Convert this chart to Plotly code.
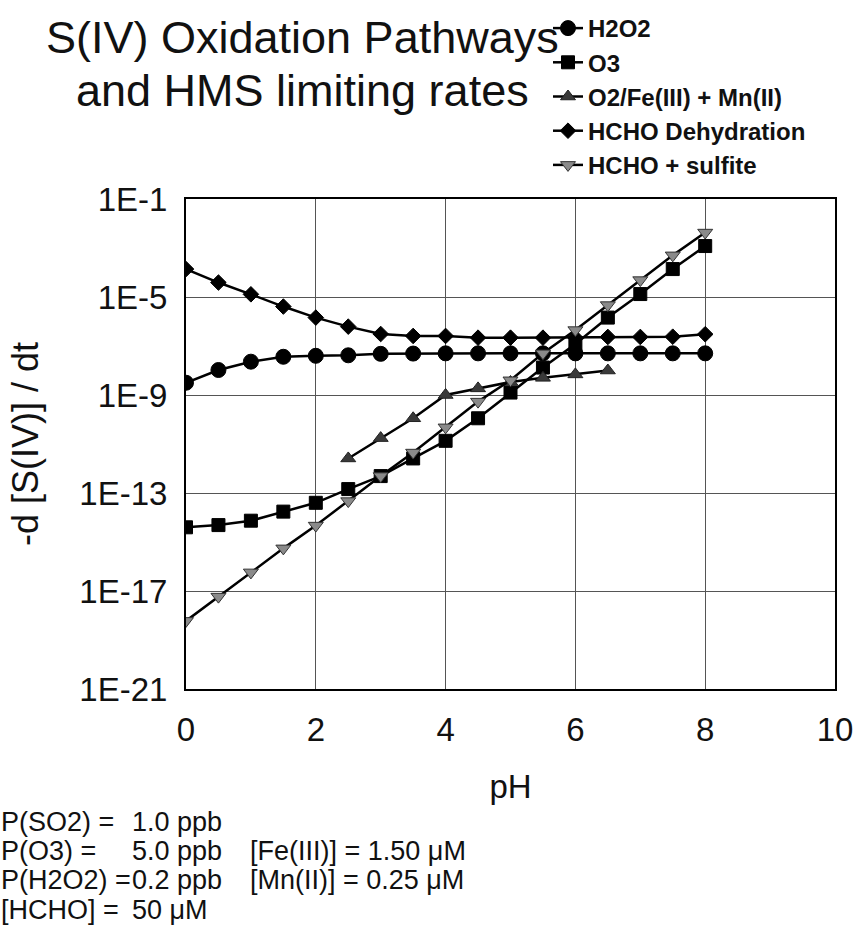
import plotly.graph_objects as go

# ---------------- data (log10 of rate) ----------------
ph_full = [0, 0.5, 1, 1.5, 2, 2.5, 3, 3.5, 4, 4.5, 5, 5.5, 6, 6.5, 7, 7.5, 8]
ph_fe = [2.5, 3, 3.5, 4, 4.5, 5, 5.5, 6, 6.5]

log_h2o2 = [-8.5, -7.98, -7.64, -7.44, -7.40, -7.38, -7.32, -7.31, -7.30, -7.30,
            -7.30, -7.30, -7.30, -7.30, -7.30, -7.30, -7.30]
log_o3 = [-14.4, -14.31, -14.13, -13.76, -13.40, -12.84, -12.31, -11.59, -10.87,
          -9.95, -8.9, -7.88, -6.92, -5.84, -4.88, -3.86, -2.92]
log_fe = [-11.59, -10.76, -9.95, -9.0, -8.73, -8.47, -8.30, -8.16, -8.0]
log_dehyd = [-3.86, -4.41, -4.89, -5.39, -5.84, -6.21, -6.51, -6.59, -6.59, -6.66,
             -6.66, -6.66, -6.66, -6.63, -6.63, -6.62, -6.52]
log_sulfite = [-18.22, -17.23, -16.24, -15.26, -14.33, -13.33, -12.31, -11.35, -10.32,
               -9.27, -8.4, -7.30, -6.35, -5.33, -4.31, -3.30, -2.37]

y_tick_exps = [-1, -5, -9, -13, -17, -21]
y_tick_text = ["1E-1", "1E-5", "1E-9", "1E-13", "1E-17", "1E-21"]
x_tick_vals = [0, 2, 4, 6, 8, 10]

series_names = ["H2O2", "O3", "O2/Fe(III) + Mn(II)", "HCHO Dehydration", "HCHO + sulfite"]

title_lines = ["S(IV) Oxidation Pathways", "and HMS limiting rates"]
notes_col1 = ["P(SO2) =", "P(O3) =", "P(H2O2) =", "[HCHO] ="]
notes_col2 = ["1.0 ppb", "5.0 ppb", "0.2 ppb", "50 μM"]
notes_col3 = ["", "[Fe(III)] = 1.50 μM", "[Mn(II)] = 0.25 μM", ""]

# ---------------- layout constants ----------------
W, H = 862, 950
L, R, T, B = 186, 27, 199, 261
PW = W - L - R
PH = H - T - B
FONT = "Liberation Sans, Arial, sans-serif"


def px_x(px):
    return (px - L) / PW


def px_y(py):
    return (H - B - py) / PH


def pw(vals):
    return [10 ** v for v in vals]


fig = go.Figure()

styles = [
    dict(symbol="circle", size=15, color="black", line=dict(color="black", width=1)),
    dict(symbol="square", size=13, color="black", line=dict(color="black", width=1)),
    dict(symbol="triangle-up", size=13, color="#3a3a3a", line=dict(color="#222", width=1)),
    dict(symbol="diamond", size=12, color="black", line=dict(color="black", width=1)),
    dict(symbol="triangle-down", size=13, color="#8a8a8a", line=dict(color="#333", width=1)),
]
xs = [ph_full, ph_full, ph_fe, ph_full, ph_full]
ys = [log_h2o2, log_o3, log_fe, log_dehyd, log_sulfite]

for name, x, y, st in zip(series_names, xs, ys, styles):
    fig.add_trace(go.Scatter(
        x=x, y=pw(y), name=name, mode="lines+markers",
        line=dict(color="black", width=2.5),
        marker=st,
    ))

annotations = []
for txt, ycen in zip(title_lines, [37, 90]):
    annotations.append(dict(
        text=txt, xref="paper", yref="paper", x=px_x(302), y=px_y(ycen),
        xanchor="center", yanchor="middle", showarrow=False,
        font=dict(family=FONT, size=45, color="#111")))

line_y = [822, 851, 880, 910]
for i in range(4):
    for col, xpx in ((notes_col1, -1), (notes_col2, 130), (notes_col3, 248)):
        if col[i]:
            annotations.append(dict(
                text=col[i], xref="paper", yref="paper",
                x=px_x(xpx), y=px_y(line_y[i]), xanchor="left", yanchor="middle",
                showarrow=False, font=dict(family=FONT, size=27, color="#111")))

fig.update_layout(
    width=W, height=H,
    margin=dict(l=L, r=R, t=T, b=B, pad=0, autoexpand=False),
    paper_bgcolor="white", plot_bgcolor="white",
    font=dict(family=FONT, color="#111"),
    showlegend=True,
    legend=dict(xref="container", yref="container", x=548 / W, y=1 - 6 / H,
                xanchor="left", yanchor="top",
                font=dict(family=FONT, size=24, color="#111", weight="bold"),
                bgcolor="rgba(0,0,0,0)", borderwidth=0, tracegroupgap=0,
                itemwidth=30, itemsizing="trace"),
    annotations=annotations,
    xaxis=dict(range=[0, 10], tickvals=x_tick_vals, showgrid=True,
               gridcolor="#555", gridwidth=1, zeroline=False,
               showline=True, linecolor="black", linewidth=2, mirror=True,
               ticks="", ticklabelstandoff=10, automargin=False,
               tickfont=dict(family=FONT, size=33, color="#111"),
               title=dict(text="pH", font=dict(family=FONT, size=33, color="#111"),
                          standoff=28)),
    yaxis=dict(type="log", range=[-21, -1],
               tickvals=[10 ** e for e in y_tick_exps], ticktext=y_tick_text,
               showgrid=True, gridcolor="#555", gridwidth=1, zeroline=False,
               showline=True, linecolor="black", linewidth=2, mirror=True,
               ticks="", ticklabelstandoff=10, automargin=False,
               tickfont=dict(family=FONT, size=33, color="#111"),
               title=dict(text="-d [S(IV)] / dt", font=dict(family=FONT, size=36, color="#111"),
                          standoff=30)),
)

fig.write_html("out.html")
